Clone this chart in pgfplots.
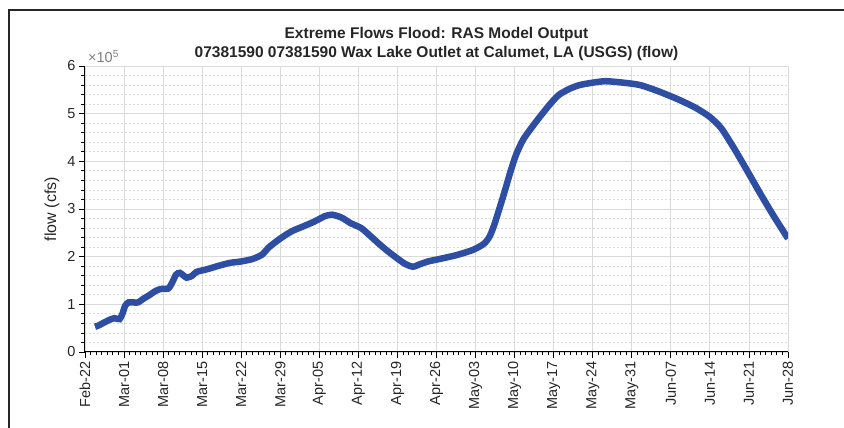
\documentclass[border=0pt]{standalone}
\usepackage{fontspec}
\setmainfont{Liberation Sans}
\usepackage{pgfplots}
\pgfplotsset{compat=1.18}
\definecolor{flowblue}{RGB}{46,78,164}
\definecolor{gridgray}{RGB}{218,218,218}

\begin{document}
\begin{tikzpicture}[x=1pt,y=1pt]
% page = 844 x 428, axis box from (85,66) to (788,352) in pixel terms
\path[use as bounding box] (-85,-76) rectangle (759,352);
\draw[line width=2pt, black!85] (-76,-80) -- (-76,342) -- (765,342);
\begin{axis}[
  at={(0,0)}, anchor=south west,
  scale only axis, width=703pt, height=286pt,
  xmin=0, xmax=126, ymin=0, ymax=600000,
  axis x line*=bottom, axis y line*=left,
  xtick={0,7,...,126},
  xticklabels={Feb-22,Mar-01,Mar-08,Mar-15,Mar-22,Mar-29,Apr-05,Apr-12,Apr-19,Apr-26,May-03,May-10,May-17,May-24,May-31,Jun-07,Jun-14,Jun-21,Jun-28},
  minor x tick num=6,
  ytick={0,100000,...,600000},
  minor y tick num=4,
  scaled y ticks=base 10:-5,
  ytick scale label code/.code={×10\textsuperscript{5}},
  every y tick scale label/.style={at={(axis description cs:0,1)}, anchor=south west,
    inner sep=0pt, xshift=3pt, yshift=3pt, text=black!50, font=\fontsize{14.5}{16}\selectfont},
  tick align=outside,
  major tick length=6pt, minor tick length=3.5pt,
  tick style={black, line width=0.8pt},
  xmajorgrids, ymajorgrids, yminorgrids,
  major grid style={gridgray, line width=0.8pt},
  minor grid style={gridgray, line width=0.8pt, dash pattern=on 2pt off 2pt},
  axis line style={black, line width=1pt},
  ticklabel style={font=\fontsize{14.5}{16}\selectfont, text=black!85},
  xticklabel style={rotate=90, anchor=east},
  /pgf/number format/assume math mode=true,
  ylabel={flow (cfs)},
  ylabel style={font=\fontsize{16}{18}\selectfont, text=black!85, at={(axis description cs:-0.047,0.5)}, anchor=center},
  title={Extreme Flows Flood: RAS Model Output\\07381590 07381590 Wax Lake Outlet at Calumet, LA (USGS) (flow)},
  title style={font=\bfseries\fontsize{15.5}{19}\selectfont, text=black!85, align=center,
    at={(axis description cs:0.5,1)}, anchor=south, yshift=-4pt},
]
\addplot[flowblue, line width=6.5pt, smooth, tension=0.4] coordinates {
 (1.8,53000) (2.5,56000) (3.6,63000) (4.5,68000) (5.3,71000) (6.2,69000)
 (6.7,80000) (7.2,97000) (7.8,104000) (8.7,104000) (9.5,104000) (10.5,112000)
 (11.5,119000) (12.5,127000) (13.5,132000) (14.9,133000) (15.6,145000)
 (16.3,162000) (17.0,166000) (18.2,156000) (19.2,160000) (20.0,168000)
 (22,174000) (24,181000) (26,187000) (28,190000) (30,195000) (31.7,204000)
 (33,220000) (35,238000) (37,253000) (39,263000) (41,273000) (43,285000)
 (44.3,288000) (46,282000) (47.5,271000) (49.5,260000) (51,245000)
 (52.5,229000) (54,214000) (56,196000) (57.5,184000) (58.8,179000)
 (60,184000) (61.5,190000) (63.5,195000) (66.5,203000) (69.5,214000)
 (71.5,227000) (72.5,242000) (73.3,265000) (74.2,298000) (75.3,340000)
 (76.3,380000) (77.3,415000) (78.5,445000) (80,470000) (81.5,493000)
 (83.5,522000) (85,540000) (87,553000) (89,561000) (93,568000) (96.5,565000)
 (99.5,560000) (103,546000) (106.5,529000) (109.5,512000) (112,493000)
 (114,470000) (116.2,430000) (118.6,382000) (121,333000) (123.4,286000)
 (126,238000)
};
\end{axis}
\end{tikzpicture}
\end{document}
